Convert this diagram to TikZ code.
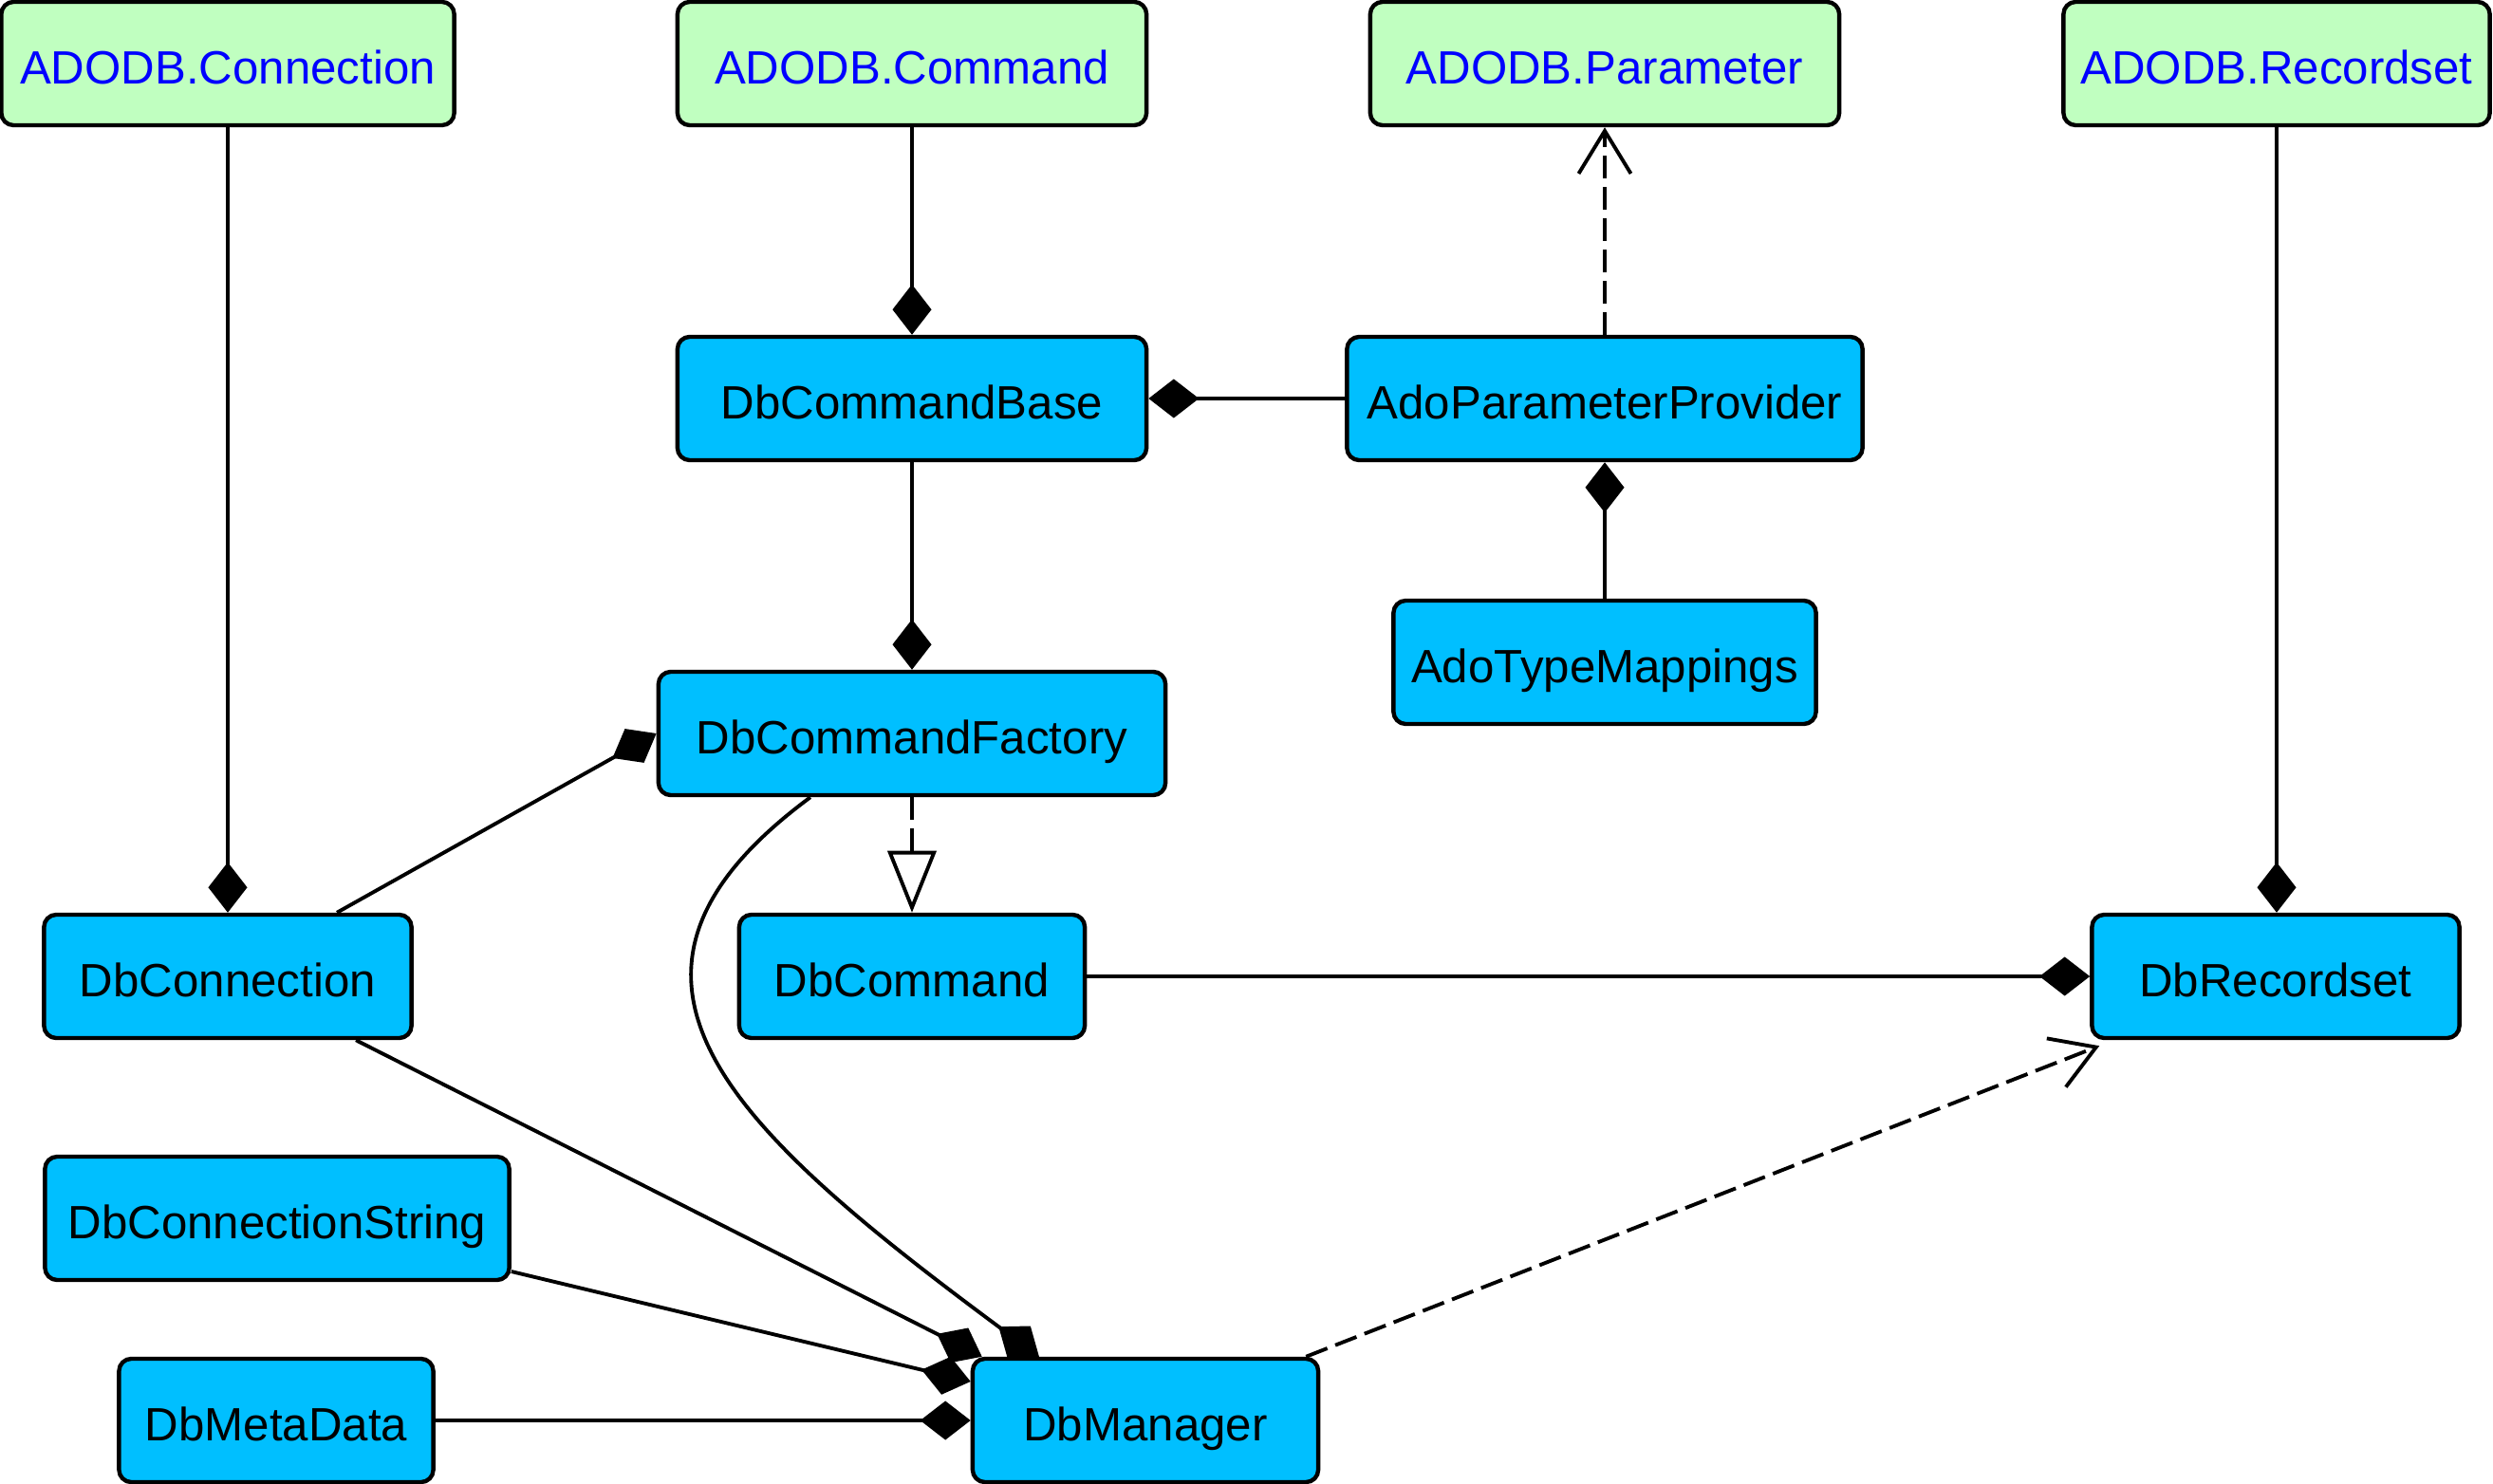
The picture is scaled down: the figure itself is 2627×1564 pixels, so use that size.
\documentclass[tikz,border=0pt]{standalone}
\usepackage{fontspec}
\setmainfont{Liberation Sans}
\usetikzlibrary{arrows.meta,calc}
\definecolor{adofill}{RGB}{192,255,192}
\definecolor{clsfill}{RGB}{0,191,255}
\definecolor{adotext}{RGB}{0,0,255}
\begin{document}
\begin{tikzpicture}[x=0.01cm,y=-0.01cm,
 box/.style={draw,line width=1.25pt,rounded corners=0.13cm,minimum height=1.3cm,inner sep=0pt,text height=0.45cm,text depth=0.03cm,font=\fontsize{14}{17}\selectfont},
 ado/.style={box,fill=adofill,text=adotext},
 cls/.style={box,fill=clsfill},
 link/.style={line width=1.1pt},
 comp/.style={link,-{Diamond[length=0.53cm,width=0.41cm]}},
 dep/.style={link,dash pattern=on 0.24cm off 0.09cm,-{Straight Barb[length=0.45cm,width=0.55cm]}},
 real/.style={link,dash pattern=on 0.24cm off 0.09cm,-{Triangle[open,length=0.65cm,width=0.51cm,fill=white]}}]
\useasboundingbox (0,0) rectangle (2627,1564);
\node[ado,minimum width=4.77cm] (adoconn) at (240,67) {ADODB.Connection};
\node[ado,minimum width=4.94cm] (adocmd) at (961,67) {ADODB.Command};
\node[ado,minimum width=4.94cm] (adoparam) at (1691,67) {ADODB.Parameter};
\node[ado,minimum width=4.49cm] (adors) at (2399,67) {ADODB.Recordset};
\node[cls,minimum width=4.94cm] (cmdbase) at (961,420) {DbCommandBase};
\node[cls,minimum width=5.43cm] (paramprov) at (1691,420) {AdoParameterProvider};
\node[cls,minimum width=4.45cm] (typemap) at (1691,698) {AdoTypeMappings};
\node[cls,minimum width=5.34cm] (fac) at (961,773) {DbCommandFactory};
\node[cls,minimum width=3.87cm] (conn) at (240,1029) {DbConnection};
\node[cls,minimum width=3.64cm] (cmd) at (961,1029) {DbCommand};
\node[cls,minimum width=3.87cm] (rs) at (2398,1029) {DbRecordset};
\node[cls,minimum width=4.89cm] (cs) at (292,1284) {DbConnectionString};
\node[cls,minimum width=3.31cm] (md) at (291,1497) {DbMetaData};
\node[cls,minimum width=3.64cm] (mgr) at (1207,1497) {DbManager};

\draw[comp] (adoconn) -- (conn);
\draw[comp] (adocmd) -- (cmdbase);
\draw[comp] (cmdbase) -- (fac);
\draw[comp] (paramprov) -- (cmdbase);
\draw[dep] (paramprov) -- (adoparam);
\draw[comp] (typemap) -- (paramprov);
\draw[real] (fac) -- (cmd);
\draw[comp] (adors) -- (adors |- rs.north);
\draw[comp] (cmd) -- (rs);
\draw[comp] ([xshift=1.15cm]conn.north) -- (fac.west);
\draw[comp] ([xshift=1.35cm]conn.south) -- ([xshift=0.12cm]mgr.north west);
\draw[comp] ([xshift=-1.07cm]fac.south) .. controls (600,1028) and (763,1184) .. ([xshift=-1.12cm]mgr.north);
\draw[comp] ([yshift=-0.56cm]cs.east) -- ([yshift=0.41cm]mgr.west);
\draw[comp] (md) -- (mgr);
\draw[dep] ([xshift=-0.15cm]mgr.north east) -- ([shift={(0.1cm,-0.06cm)}]rs.south west);
\end{tikzpicture}
\end{document}
